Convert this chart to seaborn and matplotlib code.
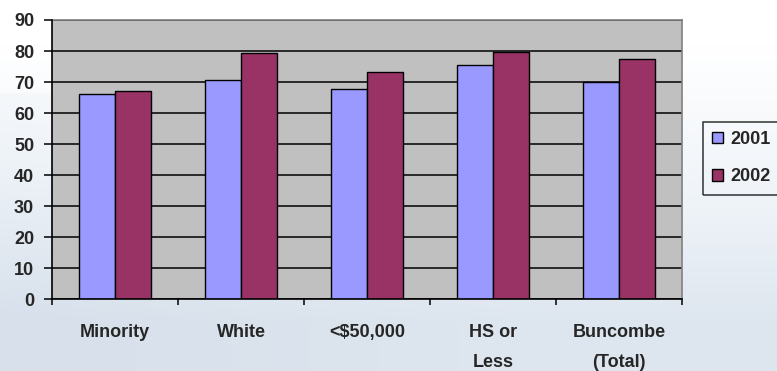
import numpy as np
import pandas as pd
import matplotlib
matplotlib.use("Agg")
import matplotlib.pyplot as plt
from matplotlib.colors import LinearSegmentedColormap
from matplotlib.patches import Patch
import seaborn as sns

# Survey results by group, 2001 vs 2002
categories = ["Minority", "White", "<$50,000", "HS or\nLess", "Buncombe\n(Total)"]
values_2001 = [66.2, 70.8, 67.7, 75.4, 70.1]
values_2002 = [67.0, 79.4, 73.4, 79.8, 77.3]
years = ["2001", "2002"]
y_ticks = [0, 10, 20, 30, 40, 50, 60, 70, 80, 90]

colors = ["#9999FF", "#993366"]

df = pd.DataFrame({
    "category": categories * 2,
    "value": values_2001 + values_2002,
    "year": [years[0]] * len(categories) + [years[1]] * len(categories),
})

sns.set_theme(style="white")
plt.rcParams["font.family"] = ["Liberation Sans", "DejaVu Sans"]
plt.rcParams["font.weight"] = "bold"

fig = plt.figure(figsize=(7.77, 3.71), dpi=100)

# soft slide-style backdrop: white at the top fading to pale blue-grey
bg = fig.add_axes([0, 0, 1, 1], zorder=-10)
yy = np.linspace(0, 1, 200)[:, None]
xx = np.linspace(0, 1, 300)[None, :]
t = np.clip((yy - 0.12) / 0.75, 0, 1) * 0.85 + 0.15 * np.clip(1 - xx * 1.5, 0, 1) * (yy > 0.25)
cmap = LinearSegmentedColormap.from_list("bgc", ["#ffffff", "#eef3f8", "#d7e0eb"])
bg.imshow(t, cmap=cmap, aspect="auto", extent=[0, 1, 0, 1], origin="upper", vmin=0, vmax=1)
bg.axis("off")

ax = fig.add_axes([52 / 777, (371 - 299.3) / 371, 630 / 777, 279.3 / 371])
ax.set_facecolor("#C0C0C0")

sns.barplot(data=df, x="category", y="value", hue="year", palette=colors,
            width=0.572, saturation=1, edgecolor="black", linewidth=1.0,
            dodge=True, gap=0, ax=ax, legend=False, zorder=3)

ax.set_ylim(0, 90)
ax.set_xlim(-0.5, len(categories) - 0.5)
ax.set_yticks(y_ticks)
ax.set_yticklabels([str(v) for v in y_ticks], fontsize=13, fontweight="bold")
ax.yaxis.grid(True, color="black", linewidth=1.1, zorder=1)
ax.set_axisbelow(True)
ax.set_xlabel("")
ax.set_ylabel("")

for s in ["top", "right"]:
    ax.spines[s].set_color("#808080")
    ax.spines[s].set_linewidth(1.2)
for s in ["left", "bottom"]:
    ax.spines[s].set_color("black")
    ax.spines[s].set_linewidth(1.2)
    ax.spines[s].set_zorder(4)

ax.tick_params(axis="y", direction="out", length=5.8, width=1.1, color="black",
               pad=7, left=True)

# category labels centred, tick marks on category boundaries
ax.set_xticks(range(len(categories)))
ax.set_xticklabels(categories, fontsize=13, fontweight="bold", linespacing=2.0,
                   va="top")
ax.tick_params(axis="x", which="major", length=0, pad=17.5)
ax.set_xticks(np.arange(-0.5, len(categories), 1), minor=True)
ax.tick_params(axis="x", which="minor", direction="out", length=4.5, width=1.1,
               color="black", bottom=True)

handles = [Patch(facecolor=c, edgecolor="black", linewidth=1.0) for c in colors]
leg = fig.legend(handles, years, loc="upper left",
                 bbox_to_anchor=(702.7 / 777, 1 - 121.7 / 371),
                 borderaxespad=0, frameon=True, fancybox=False,
                 edgecolor="black", handlelength=0.6, handleheight=0.6,
                 handletextpad=0.45, labelspacing=1.15, borderpad=0.5,
                 prop={"weight": "bold", "size": 13})
leg.get_frame().set_facecolor("none")
leg.get_frame().set_linewidth(1.1)

fig.savefig("out.png", dpi=100)
